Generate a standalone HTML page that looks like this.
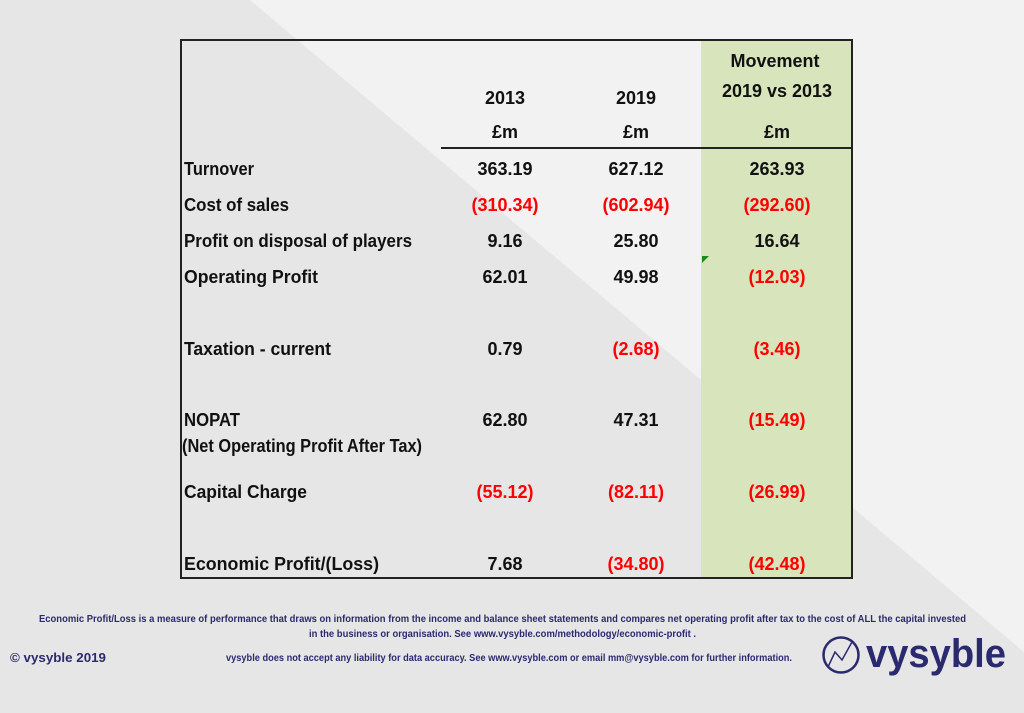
<!DOCTYPE html>
<html><head><meta charset="utf-8"><style>
html,body{margin:0;padding:0;width:1024px;height:713px;overflow:hidden;background:#e6e6e6}
svg{display:block}
text{font-family:"Liberation Sans Narrow","Liberation Sans",sans-serif;font-weight:bold}
</style></head><body>
<svg width="1024" height="713" viewBox="0 0 1024 713" xmlns="http://www.w3.org/2000/svg">
<rect width="1024" height="713" fill="#e6e6e6"/>
<polygon points="250,0 1024,0 1024,652" fill="#f2f2f2"/>
<rect x="701" y="40" width="151" height="538" fill="#d8e4bc"/>
<rect x="181" y="40" width="671" height="538" fill="none" stroke="#222" stroke-width="2"/>
<line x1="441" y1="148" x2="852" y2="148" stroke="#222" stroke-width="2"/>
<polygon points="702,256 709,256 702,263" fill="#1a8a1a"/>
<g font-size="18" fill="#111" text-anchor="middle">
<text x="775" y="67">Movement</text>
<text x="777" y="97">2019 vs 2013</text>
<text x="505" y="104">2013</text>
<text x="636" y="104">2019</text>
<text x="505" y="138">£m</text>
<text x="636" y="138">£m</text>
<text x="777" y="138">£m</text>
</g>
<g font-size="18" fill="#111">
<text x="184" y="175" textLength="70" lengthAdjust="spacingAndGlyphs">Turnover</text>
<text x="184" y="211" textLength="105" lengthAdjust="spacingAndGlyphs">Cost of sales</text>
<text x="184" y="247" textLength="228" lengthAdjust="spacingAndGlyphs">Profit on disposal of players</text>
<text x="184" y="283" textLength="134" lengthAdjust="spacingAndGlyphs">Operating Profit</text>
<text x="184" y="355" textLength="147" lengthAdjust="spacingAndGlyphs">Taxation - current</text>
<text x="184" y="426" textLength="56" lengthAdjust="spacingAndGlyphs">NOPAT</text>
<text x="182" y="452" textLength="240" lengthAdjust="spacingAndGlyphs">(Net Operating Profit After Tax)</text>
<text x="184" y="498" textLength="123" lengthAdjust="spacingAndGlyphs">Capital Charge</text>
<text x="184" y="570" textLength="195" lengthAdjust="spacingAndGlyphs">Economic Profit/(Loss)</text>
</g>
<g font-size="18" text-anchor="middle">
<g fill="#111">
<text x="505" y="175">363.19</text><text x="636" y="175">627.12</text><text x="777" y="175">263.93</text>
<text x="505" y="247">9.16</text><text x="636" y="247">25.80</text><text x="777" y="247">16.64</text>
<text x="505" y="283">62.01</text><text x="636" y="283">49.98</text>
<text x="505" y="355">0.79</text>
<text x="505" y="426">62.80</text><text x="636" y="426">47.31</text>
<text x="505" y="570">7.68</text>
</g>
<g fill="#ff0000">
<text x="505" y="211">(310.34)</text><text x="636" y="211">(602.94)</text><text x="777" y="211">(292.60)</text>
<text x="777" y="283">(12.03)</text>
<text x="636" y="355">(2.68)</text><text x="777" y="355">(3.46)</text>
<text x="777" y="426">(15.49)</text>
<text x="505" y="498">(55.12)</text><text x="636" y="498">(82.11)</text><text x="777" y="498">(26.99)</text>
<text x="636" y="570">(34.80)</text><text x="777" y="570">(42.48)</text>
</g>
</g>
<g fill="#2b2a6e">
<text x="39" y="622" font-size="10.5" textLength="927" lengthAdjust="spacingAndGlyphs">Economic Profit/Loss is a measure of performance that draws on information from the income and balance sheet statements and compares net operating profit after tax to the cost of ALL the capital invested</text>
<text x="309" y="637" font-size="10.5" textLength="387" lengthAdjust="spacingAndGlyphs">in the business or organisation. See www.vysyble.com/methodology/economic-profit .</text>
<text x="10" y="662" font-size="13" textLength="96" lengthAdjust="spacingAndGlyphs">© vysyble 2019</text>
<text x="226" y="661" font-size="10.5" textLength="566" lengthAdjust="spacingAndGlyphs">vysyble does not accept any liability for data accuracy. See www.vysyble.com or email mm@vysyble.com for further information.</text>
<circle cx="841" cy="655" r="17.5" fill="none" stroke="#2b2a6e" stroke-width="2.5"/>
<polyline points="828,667 835,652 842,660 852,642" fill="none" stroke="#2b2a6e" stroke-width="1.5"/>
<text x="866" y="667" font-size="40" font-family="Liberation Sans,sans-serif" textLength="140" lengthAdjust="spacingAndGlyphs">vysyble</text>
</g>
</svg>
</body></html>
